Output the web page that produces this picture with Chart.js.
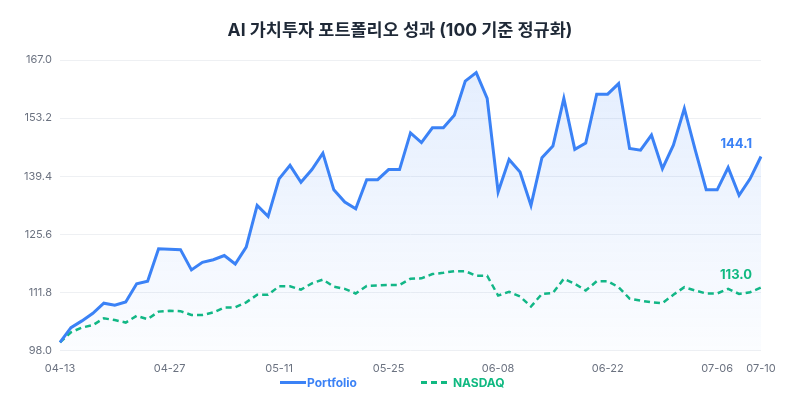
<!DOCTYPE html>
<html>
<head>
<meta charset="utf-8">
<script src="https://cdn.jsdelivr.net/npm/chart.js@4.4.1/dist/chart.umd.min.js"></script>
<style>
  html, body { margin: 0; padding: 0; background: #fff; }
  #wrap { position: relative; width: 800px; height: 400px; }
  #legend {
    position: absolute; left: 280px; top: 374px; height: 16px;
    display: flex; align-items: center; gap: 64px;
    font: bold 12px Inter, 'Noto Sans CJK KR', sans-serif;
  }
  #legend .item { display: flex; align-items: center; }
  #legend .swatch { width: 26px; height: 3px; }
</style>
</head>
<body>
<div id="wrap">
  <canvas id="perfChart"></canvas>
  <div id="legend"></div>
</div>
<script>
// Dados do gráfico
const labels = [
  '04-13','04-14','04-15','04-16','04-17',
  '04-20','04-21','04-22','04-23','04-24',
  '04-27','04-28','04-29','04-30','05-01',
  '05-04','05-05','05-06','05-07','05-08',
  '05-11','05-12','05-13','05-14','05-15',
  '05-18','05-19','05-20','05-21','05-22',
  '05-25','05-26','05-27','05-28','05-29',
  '06-01','06-02','06-03','06-04','06-05',
  '06-08','06-09','06-10','06-11','06-12',
  '06-15','06-16','06-17','06-18','06-19',
  '06-22','06-23','06-24','06-25','06-26',
  '06-29','06-30','07-01','07-02','07-03',
  '07-06','07-07','07-08','07-09','07-10'
];

const portfolio = [
  100.0, 103.5, 105.1, 106.9, 109.3, 108.8, 109.6, 113.9, 114.5, 122.2,
  122.1, 122.0, 117.2, 119.0, 119.6, 120.6, 118.6, 122.6, 132.5, 129.9,
  138.8, 142.0, 138.0, 141.0, 144.9, 136.2, 133.3, 131.7, 138.6, 138.6,
  141.0, 141.0, 149.7, 147.4, 150.9, 150.9, 153.9, 162.0, 164.0, 157.9,
  135.7, 143.4, 140.4, 132.5, 143.8, 146.6, 157.9, 145.8, 147.3, 158.9,
  158.9, 161.4, 146.0, 145.6, 149.2, 141.2, 146.8, 155.5, 145.6, 136.2,
  136.2, 141.5, 134.9, 138.8, 144.1
];

const nasdaq = [
  100.0, 102.4, 103.5, 104.1, 105.7, 105.3, 104.7, 106.3, 105.5, 107.3,
  107.5, 107.4, 106.5, 106.5, 107.1, 108.3, 108.3, 109.5, 111.3, 111.3,
  113.3, 113.3, 112.5, 114.0, 114.9, 113.2, 112.7, 111.6, 113.4, 113.5,
  113.6, 113.6, 115.1, 115.2, 116.2, 116.5, 116.9, 116.9, 115.8, 115.8,
  111.1, 112.0, 110.9, 108.5, 111.5, 111.7, 115.1, 113.9, 112.3, 114.5,
  114.5, 113.1, 110.4, 109.9, 109.5, 109.3, 111.3, 113.1, 112.3, 111.6,
  111.6, 112.7, 111.5, 111.9, 113.0
];

const seriesNames = ['Portfolio', 'NASDAQ'];

const yMin = 98.0;
const yMax = 167.0;
const yStep = 13.8;

const BLUE = '#3b82f6';
const GREEN = '#10b981';

Chart.defaults.font.family = "Inter, 'Noto Sans CJK KR', sans-serif";
Chart.defaults.color = '#6b7280';

// Rótulo do último valor de cada série
const endLabels = {
  id: 'endLabels',
  afterDatasetsDraw(chart) {
    const ctx = chart.ctx;
    chart.data.datasets.forEach((ds, i) => {
      const meta = chart.getDatasetMeta(i);
      const pt = meta.data[meta.data.length - 1];
      const val = ds.data[ds.data.length - 1];
      ctx.save();
      ctx.font = "bold 13px Inter, 'Noto Sans CJK KR', sans-serif";
      ctx.fillStyle = ds.borderColor;
      ctx.textAlign = 'right';
      ctx.textBaseline = 'bottom';
      ctx.fillText(val.toFixed(1), pt.x - 9, pt.y - 6);
      ctx.restore();
    });
  }
};

const ctx = document.getElementById('perfChart').getContext('2d');
const chart = new Chart(ctx, {
  type: 'line',
  data: {
    labels: labels,
    datasets: [{
      label: seriesNames[0],
      data: portfolio,
      borderColor: BLUE,
      borderWidth: 3,
      pointRadius: 0,
      tension: 0,
      fill: 'start',
      backgroundColor: (c) => {
        const area = c.chart.chartArea;
        if (!area) return 'rgba(59,130,246,0.1)';
        const g = c.chart.ctx.createLinearGradient(0, area.top, 0, area.bottom);
        g.addColorStop(0, 'rgba(59,130,246,0.14)');
        g.addColorStop(1, 'rgba(59,130,246,0.02)');
        return g;
      }
    }, {
      label: seriesNames[1],
      data: nasdaq,
      borderColor: GREEN,
      borderWidth: 2.5,
      borderDash: [6, 4],
      pointRadius: 0,
      tension: 0,
      fill: false
    }]
  },
  options: {
    responsive: true,
    maintainAspectRatio: false,
    animation: false,
    layout: {
      padding: { left: 20, right: 20, top: 12, bottom: 22 }
    },
    plugins: {
      title: {
        display: true,
        text: 'AI 가치투자 포트폴리오 성과 (100 기준 정규화)',
        color: '#1f2937',
        font: { size: 17.5, weight: 'bold' },
        padding: { top: 8, bottom: 19 }
      },
      legend: { display: false },
      tooltip: { enabled: false }
    },
    scales: {
      x: {
        grid: { display: false },
        border: { display: false },
        // espaço extra à direita para os rótulos finais
        afterFit: (scale) => { scale.paddingRight = 39; },
        ticks: {
          autoSkip: false,
          maxRotation: 0,
          font: { size: 11 },
          padding: 3,
          callback: function (v, i) {
            return (i % 10 === 0 || i === labels.length - 1) ? labels[i] : '';
          }
        }
      },
      y: {
        min: yMin,
        max: yMax,
        grid: { color: '#eef0f3', drawTicks: false },
        border: { display: false },
        afterFit: (scale) => { scale.width = 40; },
        ticks: {
          stepSize: yStep,
          padding: 8,
          font: { size: 11 },
          callback: (v) => Number(v).toFixed(1)
        }
      }
    }
  },
  plugins: [endLabels]
});

// Legenda em HTML
const legendEl = document.getElementById('legend');
chart.data.datasets.forEach((ds) => {
  const item = document.createElement('span');
  item.className = 'item';
  const sw = document.createElement('span');
  sw.className = 'swatch';
  if (ds.borderDash) {
    sw.style.background = `repeating-linear-gradient(90deg, ${ds.borderColor} 0 6px, transparent 6px 10px)`;
  } else {
    sw.style.background = ds.borderColor;
  }
  const txt = document.createElement('span');
  txt.textContent = ds.label;
  txt.style.color = ds.borderColor;
  txt.style.marginLeft = ds.borderDash ? '6px' : '1px';
  item.appendChild(sw);
  item.appendChild(txt);
  legendEl.appendChild(item);
});
</script>
</body>
</html>
